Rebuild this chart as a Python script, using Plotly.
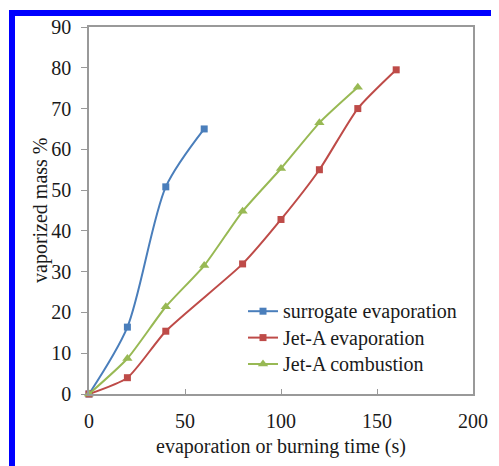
import plotly.graph_objects as go

# ---- data ----
surrogate_time = [0, 20, 40, 60]
surrogate_mass = [0, 16.4, 50.8, 65.0]

jeta_evap_time = [0, 20, 40, 80, 100, 120, 140, 160]
jeta_evap_mass = [0, 4.0, 15.4, 31.9, 42.8, 55.0, 70.0, 79.5]

jeta_comb_time = [0, 20, 40, 60, 80, 100, 120, 140]
jeta_comb_mass = [0, 8.7, 21.4, 31.5, 44.8, 55.3, 66.5, 75.2]

series_names = ["surrogate evaporation", "Jet-A evaporation", "Jet-A combustion"]
x_ticks = [0, 50, 100, 150, 200]
y_ticks = [0, 10, 20, 30, 40, 50, 60, 70, 80, 90]
x_title = "evaporation or burning time (s)"
y_title = "vaporized mass %"

BLUE = "#4A7EBB"
RED = "#BE4B48"
GREEN = "#98B954"
FONT = "Liberation Serif, Times New Roman, serif"
TXT = "#1a1a1a"

def lg(name):
    return '<span style="font-size:20px">' + name + '</span>'

fig = go.Figure()
fig.add_trace(go.Scatter(
    x=surrogate_time, y=surrogate_mass, name=lg(series_names[0]),
    mode="lines+markers", line=dict(color=BLUE, width=2, shape="spline", smoothing=0.8),
    marker=dict(symbol="square", size=7, color=BLUE), cliponaxis=False))
fig.add_trace(go.Scatter(
    x=jeta_evap_time, y=jeta_evap_mass, name=lg(series_names[1]),
    mode="lines+markers", line=dict(color=RED, width=2, shape="spline", smoothing=0.6),
    marker=dict(symbol="square", size=7, color=RED), cliponaxis=False))
fig.add_trace(go.Scatter(
    x=jeta_comb_time, y=jeta_comb_mass, name=lg(series_names[2]),
    mode="lines+markers", line=dict(color=GREEN, width=2, shape="spline", smoothing=0.6),
    marker=dict(symbol="triangle-up", size=9, color=GREEN), cliponaxis=False))

# the page body has an 8px margin; figure coords = screen coords - 8
OFF = 8
W, H = 499 - OFF, 466 - OFF
L, T = 89 - OFF, 27 - OFF
RIGHT, BOTTOM = 473 - OFF, 394 - OFF
R, B = W - RIGHT, H - BOTTOM
pw, ph = W - L - R, H - T - B

def px(xs):
    return (xs - OFF - L) / pw

def py(ys):
    return (H - B - (ys - OFF)) / ph

fig.update_layout(
    width=W, height=H,
    margin=dict(l=L, r=R, t=T, b=B, autoexpand=False),
    paper_bgcolor="white", plot_bgcolor="white",
    font=dict(family=FONT, size=20, color=TXT),
    showlegend=True,
    legend=dict(x=px(243), y=py(293), xanchor="left", yanchor="top",
                bgcolor="rgba(0,0,0,0)", font=dict(family=FONT, size=18, color=TXT),
                tracegroupgap=0, itemwidth=30),
    xaxis=dict(range=[0, 200], tickvals=x_ticks, ticks="inside", ticklen=5,
               tickcolor="#999999", showline=True, linecolor="#999999", linewidth=1.5,
               mirror=True, showgrid=False, zeroline=False, automargin=False,
               ticklabelstandoff=8,
               title=dict(text=x_title, standoff=8,
                          font=dict(family=FONT, size=20, color=TXT))),
    yaxis=dict(range=[0, 90], tickvals=y_ticks, ticks="outside", ticklen=6,
               tickcolor="#999999", showline=True, linecolor="#999999", linewidth=1.5,
               mirror=True, showgrid=False, zeroline=False, automargin=False,
               ticklabelstandoff=6),
    annotations=[dict(text=y_title, textangle=-90, xref="paper", yref="paper",
                      x=px(40), y=py(210), xanchor="center", yanchor="middle",
                      showarrow=False, font=dict(family=FONT, size=20, color=TXT))],
    shapes=[dict(type="rect", xref="paper", yref="paper",
                 x0=px(12), x1=px(560), y0=py(540), y1=py(13),
                 line=dict(color="#0000FF", width=6), fillcolor="rgba(0,0,0,0)",
                 layer="above")],
)

fig.write_html("out.html")
